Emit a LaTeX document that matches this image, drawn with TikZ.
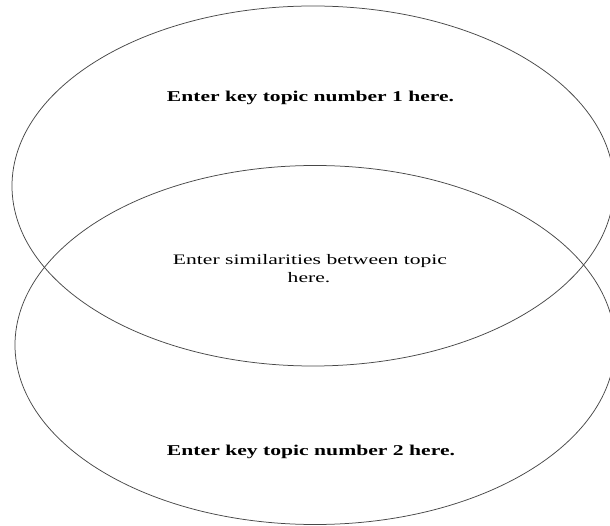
\documentclass[tikz,border=0pt]{standalone}
\usepackage{fontspec}
\setmainfont{Liberation Serif}
\usepackage{graphicx}
\tikzset{
  venn/.style={draw=black!72, line width=0.75pt},
  lbl/.style={inner sep=0pt, anchor=base},
}
\begin{document}
\begin{tikzpicture}[x=1pt,y=1pt]
\useasboundingbox (0,0) rectangle (610,525);
\clip (0,0) rectangle (610,525);
\fill[white] (0,0) rectangle (610,525);
\draw[venn] (313,339) ellipse [x radius=301, y radius=180];
\draw[venn] (315,180) ellipse [x radius=300, y radius=179.5];
\node[lbl] (t1) at (310.5,423) {\resizebox{287pt}{\height}{\fontsize{15}{18}\selectfont\bfseries Enter key topic number 1 here.}};
\node[lbl] (t2) at (311,70) {\resizebox{288pt}{\height}{\fontsize{15}{18}\selectfont\bfseries Enter key topic number 2 here.}};
\node[lbl] (s1) at (310,260) {\resizebox{274pt}{\height}{\fontsize{14.5}{18}\selectfont Enter similarities between topic}};
\node[lbl] (s2) at (309,242) {\scalebox{1.49}[1]{\fontsize{14.5}{18}\selectfont here.}};
\end{tikzpicture}
\end{document}
